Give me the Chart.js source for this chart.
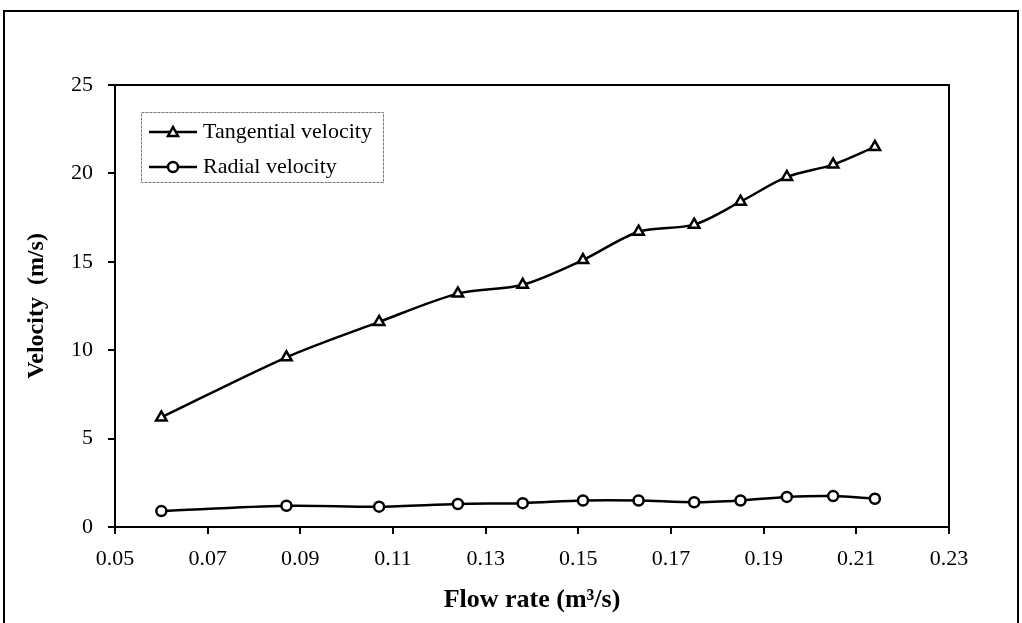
<!DOCTYPE html>
<html>
<head>
<meta charset="utf-8">
<script src="https://cdn.jsdelivr.net/npm/chart.js@4/dist/chart.umd.min.js"></script>
<style>
    html, body { margin: 0; padding: 0; background: #fff; overflow: hidden; }
    #wrap { position: relative; width: 1022px; height: 623px; }
    #frame { position: absolute; left: 3px; top: 10px; width: 1012px; height: 680px; border: 2px solid #000; }
    #myChart { position: absolute; left: 0; top: 0; }
</style>
</head>
<body>
<div id="wrap">
    <div id="frame"></div>
    <canvas id="myChart" width="1022" height="623"></canvas>
</div>
<script>
    const flowRate = [0.060, 0.087, 0.107, 0.124, 0.138, 0.151, 0.163, 0.175, 0.185, 0.195, 0.205, 0.214];
    const tangential = [6.2, 9.6, 11.6, 13.2, 13.7, 15.1, 16.7, 17.1, 18.4, 19.8, 20.5, 21.5];
    const radial = [0.9, 1.2, 1.15, 1.3, 1.35, 1.5, 1.5, 1.4, 1.5, 1.7, 1.75, 1.6];
    const seriesNames = ['Tangential velocity', 'Radial velocity'];

    const serif = "'Liberation Serif', 'Times New Roman', serif";

    const toPoints = (ys) => flowRate.map((x, i) => ({x: x, y: ys[i]}));

    // box round the plot area
    const plotBorder = {
        id: 'plotBorder',
        afterDraw(chart) {
            const {ctx, chartArea} = chart;
            ctx.save();
            ctx.strokeStyle = '#000';
            ctx.lineWidth = 2;
            ctx.strokeRect(chartArea.left, chartArea.top, chartArea.right - chartArea.left, chartArea.bottom - chartArea.top);
            ctx.restore();
        }
    };

    // legend box in the upper left corner of the plot
    const innerLegend = {
        id: 'innerLegend',
        afterDraw(chart) {
            const ctx = chart.ctx;
            const left = 141, top = 112, w = 242, h = 70;
            ctx.save();
            ctx.strokeStyle = '#777';
            ctx.lineWidth = 1;
            ctx.setLineDash([3, 1]);
            ctx.strokeRect(left + 0.5, top + 0.5, w, h);
            ctx.setLineDash([]);
            ctx.font = '22px ' + serif;
            ctx.textBaseline = 'middle';
            chart.data.datasets.forEach((ds, i) => {
                const y = top + 20 + i * 35;
                ctx.strokeStyle = '#000';
                ctx.lineWidth = 2.5;
                ctx.beginPath();
                ctx.moveTo(149, y);
                ctx.lineTo(197, y);
                ctx.stroke();
                ctx.fillStyle = '#fff';
                if (ds.pointStyle === 'triangle') {
                    ctx.beginPath();
                    ctx.moveTo(173, y - 5);
                    ctx.lineTo(178, y + 4);
                    ctx.lineTo(168, y + 4);
                    ctx.closePath();
                } else {
                    ctx.beginPath();
                    ctx.arc(173, y, 5, 0, Math.PI * 2);
                }
                ctx.fill();
                ctx.stroke();
                ctx.fillStyle = '#000';
                ctx.fillText(ds.label, 203, y);
            });
            ctx.restore();
        }
    };

    const chart = new Chart(document.getElementById('myChart'), {
        type: 'line',
        data: {
            datasets: [
                {
                    label: seriesNames[0],
                    data: toPoints(tangential),
                    borderColor: '#000',
                    borderWidth: 2.5,
                    pointStyle: 'triangle',
                    pointRadius: 6,
                    pointBorderWidth: 2.5,
                    pointBackgroundColor: '#fff',
                    pointBorderColor: '#000',
                    tension: 0.3
                },
                {
                    label: seriesNames[1],
                    data: toPoints(radial),
                    borderColor: '#000',
                    borderWidth: 2.5,
                    pointStyle: 'circle',
                    pointRadius: 5,
                    pointBorderWidth: 2.5,
                    pointBackgroundColor: '#fff',
                    pointBorderColor: '#000',
                    tension: 0.3
                }
            ]
        },
        options: {
            responsive: false,
            animation: false,
            devicePixelRatio: 1,
            layout: {padding: {top: 85, right: 73, left: 0, bottom: 0}},
            plugins: {
                legend: {display: false},
                tooltip: {enabled: false}
            },
            scales: {
                x: {
                    type: 'linear',
                    min: 0.05,
                    max: 0.23,
                    afterFit(scale) { scale.height = 96; },
                    ticks: {
                        stepSize: 0.02,
                        color: '#000',
                        padding: 12,
                        font: {family: serif, size: 22},
                        callback: (v) => v.toFixed(2)
                    },
                    grid: {drawOnChartArea: false, drawTicks: true, tickLength: 7, color: '#000', lineWidth: 2},
                    border: {color: '#000', width: 2},
                    title: {
                        display: true,
                        text: 'Flow rate (m³/s)',
                        color: '#000',
                        font: {family: serif, size: 26, weight: 'bold'},
                        padding: {top: 0, bottom: 7}
                    }
                },
                y: {
                    min: 0,
                    max: 25,
                    afterFit(scale) { scale.width = 115; },
                    ticks: {
                        stepSize: 5,
                        color: '#000',
                        padding: 15,
                        font: {family: serif, size: 22}
                    },
                    grid: {drawOnChartArea: false, drawTicks: true, tickLength: 7, color: '#000', lineWidth: 2},
                    border: {color: '#000', width: 2},
                    title: {
                        display: true,
                        text: 'Velocity  (m/s)',
                        color: '#000',
                        font: {family: serif, size: 24, weight: 'bold'},
                        padding: {top: 22, bottom: 0}
                    }
                }
            }
        },
        plugins: [plotBorder, innerLegend]
    });
</script>
</body>
</html>
